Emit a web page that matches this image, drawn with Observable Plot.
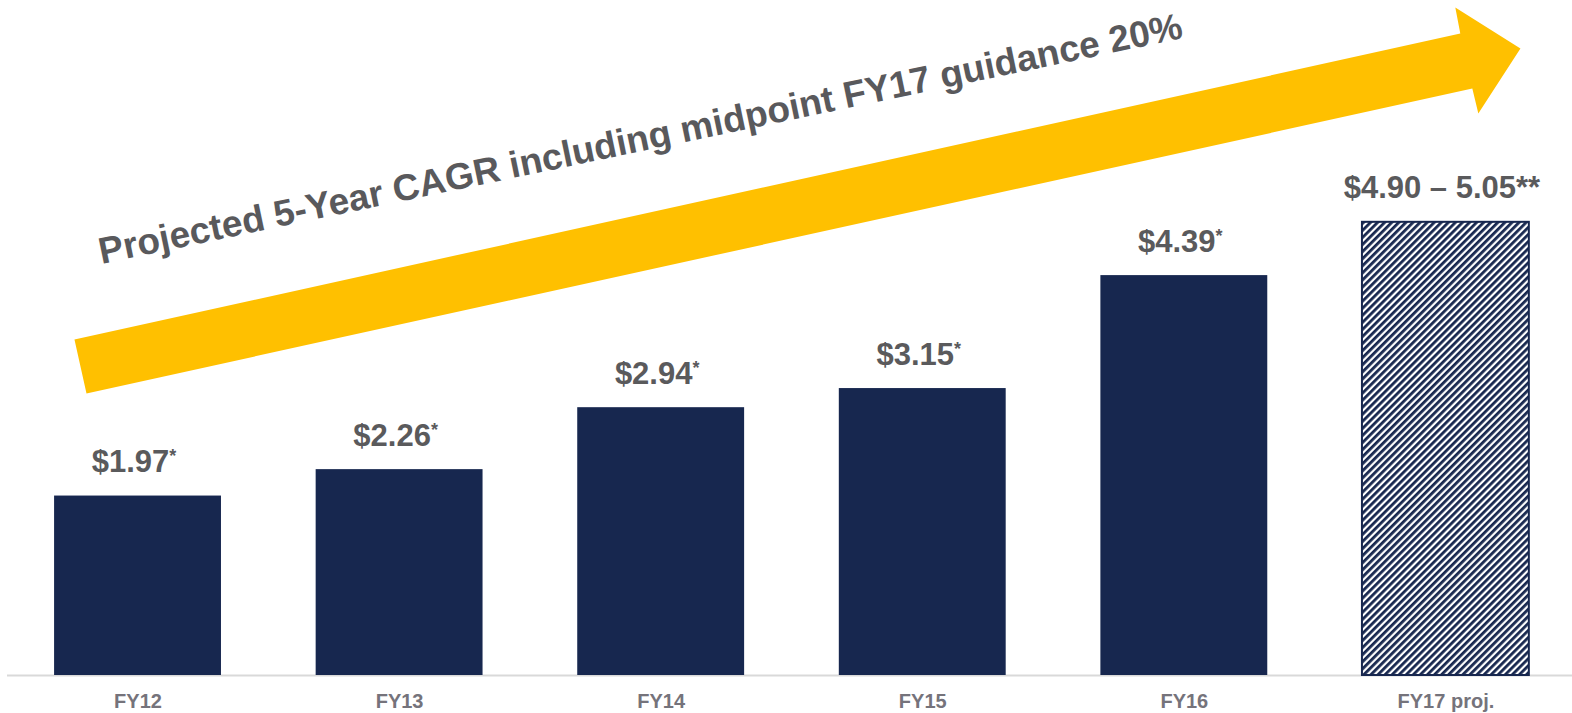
<!DOCTYPE html>
<html>
<head>
<meta charset="utf-8">
<script src="https://cdn.jsdelivr.net/npm/d3@7"></script>
<script src="https://cdn.jsdelivr.net/npm/@observablehq/plot@0.6"></script>
<style>
  html, body { margin: 0; padding: 0; background: #ffffff; }
  svg { display: block; }
</style>
</head>
<body>
<div id="chart"></div>
<script>
// ---- data ----
const categories = ["FY12", "FY13", "FY14", "FY15", "FY16", "FY17 proj."];
const values = [1.97, 2.26, 2.94, 3.15, 4.39, 4.975];   // FY17 = midpoint of 4.90–5.05 guidance
const valueLabels = ["$1.97", "$2.26", "$2.94", "$3.15", "$4.39", "$4.90 – 5.05**"];
const footnoteMarks = ["*", "*", "*", "*", "*", ""];
const projected = [false, false, false, false, false, true];

// growth arrow outline, in (category index, value) units
const arrowPos = [-0.197, -0.243, 5.055, 5.036, 5.285, 5.124, 5.101];
const arrowValue = [3.096, 3.688, 7.047, 7.333, 6.883, 6.169, 6.443];
const arrowText = "Projected 5-Year CAGR including midpoint FY17 guidance 20%";
const arrowTextPos = [1.93];
const arrowTextValue = [5.76];

// ---- build tables ----
const bars = categories.map((c, i) => ({
  i, category: c, value: values[i], label: valueLabels[i], mark: footnoteMarks[i], projected: projected[i]
}));
const arrow = arrowPos.map((p, k) => ({ pos: p, value: arrowValue[k] }));
const arrowLabel = arrowTextPos.map((p, k) => ({ pos: p, value: arrowTextValue[k], text: arrowText }));

const navy = "#17274f";
const half = 0.319;

const svg = Plot.plot({
  width: 1572,
  height: 713,
  marginTop: 0,
  marginLeft: 7,
  marginRight: 0,
  marginBottom: 38,
  style: { fontFamily: "Liberation Sans, Arial, Helvetica, sans-serif", background: "#ffffff", overflow: "visible" },
  x: { type: "linear", domain: [-0.499, 5.484], axis: null },
  y: { domain: [0, 7.41], axis: null },
  marks: [
    Plot.line(arrow, { x: "pos", y: "value", fill: "#ffc000", stroke: "none" }),
    Plot.text(arrowLabel, {
      x: "pos", y: "value", text: "text", rotate: -11.8,
      fontSize: 37, fontWeight: "bold", fill: "#59595c", textAnchor: "middle", lineAnchor: "bottom"
    }),
    Plot.ruleY([0], { stroke: "#d9d9d9", strokeWidth: 2 }),
    Plot.rectY(bars.filter(d => !d.projected), {
      x1: d => d.i - half, x2: d => d.i + half, y: "value", fill: navy
    }),
    Plot.rectY(bars.filter(d => d.projected), {
      x1: d => d.i - half, x2: d => d.i + half, y: "value",
      fill: "url(#hatch)", stroke: navy, strokeWidth: 2
    }),
    Plot.text(bars, {
      x: "i", y: "value", text: "label", dx: -4, dy: -24,
      fontSize: 31, fontWeight: "bold", fill: "#5a5a5c",
      textAnchor: "middle", lineAnchor: "bottom", ariaDescription: "value labels"
    }),
    Plot.axisX({
      ticks: bars.map(d => d.i), tickFormat: i => categories[i],
      tickSize: 0, tickPadding: 18, fontSize: 20, fontWeight: "bold", color: "#75737b"
    })
  ]
});

// hatch pattern for projected bar
const defs = d3.select(svg).insert("defs", ":first-child");
const pat = defs.append("pattern")
  .attr("id", "hatch")
  .attr("patternUnits", "userSpaceOnUse")
  .attr("width", 5).attr("height", 5)
  .attr("patternTransform", "rotate(45)");
pat.append("rect").attr("width", 5).attr("height", 5).attr("fill", "#ffffff");
pat.append("rect").attr("width", 2.8).attr("height", 5).attr("fill", navy);

// superscript footnote marks on value labels
d3.select(svg).selectAll('g[aria-description="value labels"] text').each(function (_, k) {
  const m = bars[k].mark;
  if (m) {
    d3.select(this).append("tspan").attr("dy", -10).attr("font-size", 18).text(m);
  }
});

document.getElementById("chart").appendChild(svg);
</script>
</body>
</html>
